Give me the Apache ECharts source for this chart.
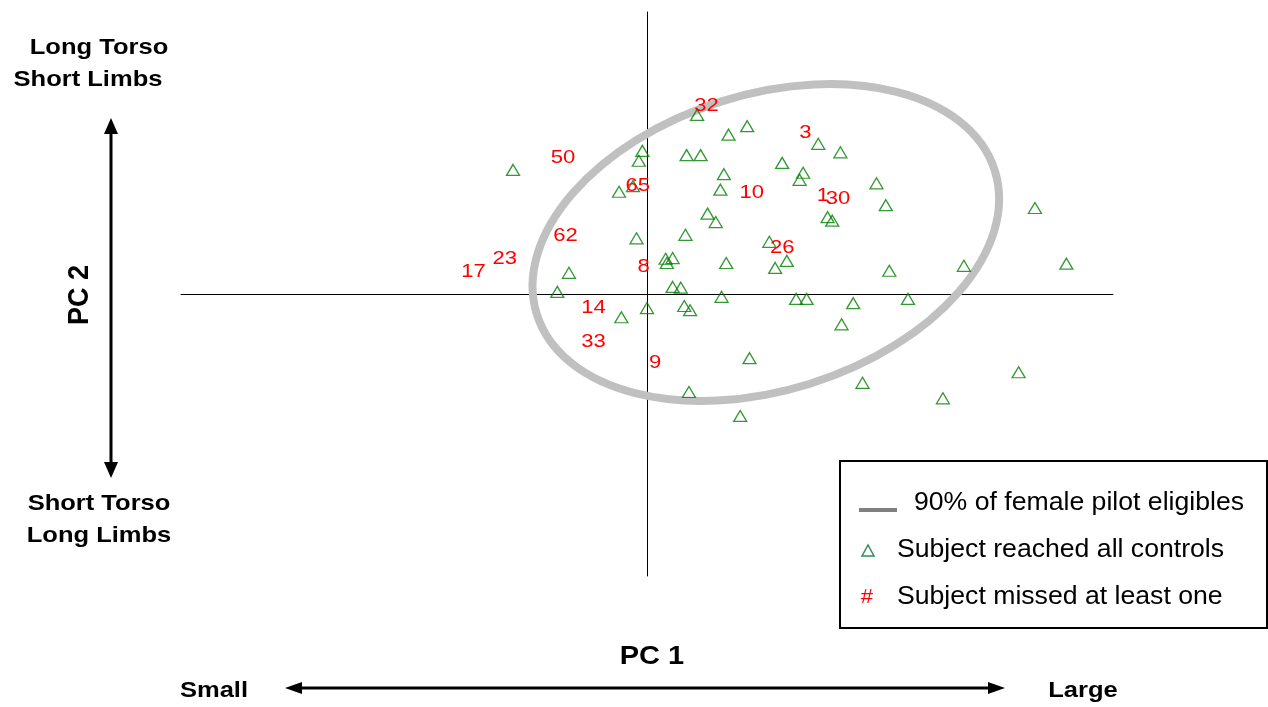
<!DOCTYPE html>
<html>
<head>
<meta charset="utf-8">
<script src="https://cdn.jsdelivr.net/npm/echarts@6/dist/echarts.min.js"></script>
<style>html,body{margin:0;padding:0;background:#fff;}#chart{width:1268px;height:707px;}</style>
</head>
<body>
<div id="chart"></div>
<script>
// ---- data ----
// Subjects who reached all controls (PC1, PC2 scores)
const reachedPC1 = [0.43,0.86,0.70,-0.04,-0.07,0.34,0.46,-1.15,0.66,-0.24,0.63,0.52,0.59,-0.09,0.33,0.16,0.22,0.17,0.68,-0.67,
  1.47,1.66,1.16,1.34,1.31,1.97,2.05,3.33,1.55,1.59,1.05,1.20,1.10,2.08,2.72,3.60,0.64,1.28,1.37,1.77,2.24,1.67,
  -0.77,0.22,0.29,-0.22,0.00,0.32,0.37,0.88,0.36,0.80,1.85,2.54,3.19,-0.12];
const reachedPC2 = [2.54,2.38,2.26,2.03,1.89,1.97,1.97,1.76,1.70,1.45,1.48,1.14,1.02,0.79,0.84,0.50,0.51,0.44,0.44,0.30,
  2.13,2.01,1.86,1.72,1.62,1.57,1.26,1.22,1.09,1.04,0.74,0.47,0.37,0.33,0.40,0.43,-0.04,-0.07,-0.07,-0.13,-0.07,-0.43,
  0.03,0.10,0.09,-0.33,-0.20,-0.17,-0.23,-0.91,-1.39,-1.73,-1.26,-1.48,-1.11,1.53];
// Subjects who missed at least one control (id, PC1, PC2)
const missedIds = ["32","3","50","65","10","1","30","62","26","23","17","8","14","33","9"];
const missedPC1 = [0.51,1.36,-0.72,-0.08,0.90,1.51,1.64,-0.70,1.16,-1.22,-1.49,-0.03,-0.46,-0.46,0.07];
const missedPC2 = [2.67,2.28,1.93,1.53,1.43,1.39,1.35,0.82,0.65,0.50,0.31,0.38,-0.20,-0.68,-0.97];
// 90% region of female pilot eligibles: [centerPC1, centerPC2, semiMajor, semiMinor, angleDeg]
const ellipse90 = [1.02, 0.73, 2.06, 1.27, 17.4];
// Axis range
const axisRange = [-4, 4];
// Text
const legendTexts = ["90% of female pilot eligibles", "Subject reached all controls", "Subject missed at least one"];

// ---- chart ----
const chart = echarts.init(document.getElementById('chart'), null, {renderer: 'canvas'});
const SX = 1.16;
const FONT = '"Liberation Sans", Arial, sans-serif';

function txt(text, x, y, size, opts) {
  opts = opts || {};
  return {
    type: 'text', x: x, y: y, scaleX: opts.scaleX || SX, scaleY: opts.scaleY || 1,
    rotation: opts.rotation || 0, silent: true, z: 10,
    style: {
      text: text, fill: opts.fill || '#000',
      font: (opts.bold === false ? '' : 'bold ') + size + 'px ' + FONT,
      align: opts.align || 'center', verticalAlign: 'middle'
    }
  };
}

const option = {
  animation: false,
  backgroundColor: '#fff',
  grid: {left: 181, right: 155, top: 12, bottom: 131, containLabel: false},
  xAxis: {
    type: 'value', min: axisRange[0], max: axisRange[1],
    axisLine: {show: true, onZero: true, lineStyle: {color: '#000', width: 1}},
    axisTick: {show: false}, axisLabel: {show: false}, splitLine: {show: false}
  },
  yAxis: {
    type: 'value', min: axisRange[0], max: axisRange[1],
    axisLine: {show: true, onZero: true, lineStyle: {color: '#000', width: 1}},
    axisTick: {show: false}, axisLabel: {show: false}, splitLine: {show: false}
  },
  series: [
    {
      type: 'custom', name: '90% of female pilot eligibles', z: 1, silent: true,
      data: [ellipse90],
      renderItem: function (params, api) {
        const c = api.coord([api.value(0), api.value(1)]);
        const s = api.size([1, 1])[0];
        return {
          type: 'ellipse', x: c[0], y: c[1], rotation: api.value(4) * Math.PI / 180,
          shape: {cx: 0, cy: 0, rx: api.value(2) * s, ry: api.value(3) * s},
          style: {fill: null, stroke: '#c0c0c0', lineWidth: 8}
        };
      }
    },
    {
      type: 'scatter', name: 'Subject reached all controls', z: 3, silent: true,
      data: reachedPC1.map((x, i) => [x, reachedPC2[i]]),
      symbol: 'triangle', symbolSize: [13, 11],
      itemStyle: {color: 'rgba(0,0,0,0)', borderColor: '#008000', borderWidth: 1.3}
    },
    {
      type: 'custom', name: 'Subject missed at least one', z: 4, silent: true,
      data: missedPC1.map((x, i) => [x, missedPC2[i]]),
      renderItem: function (params, api) {
        const p = api.coord([api.value(0), api.value(1)]);
        return {
          type: 'text', x: p[0], y: p[1], scaleX: SX,
          style: {text: missedIds[params.dataIndex], fill: '#ff0000',
            font: '19px ' + FONT, align: 'center', verticalAlign: 'middle'}
        };
      }
    }
  ],
  graphic: [
    // left side labels
    txt('Long Torso', 99, 48, 22),
    txt('Short Limbs', 88, 80, 22),
    txt('Short Torso', 99, 504, 22),
    txt('Long Limbs', 99, 536, 22),
    txt('PC 2', 80, 295, 27, {rotation: Math.PI / 2, scaleX: 1, scaleY: 1.1}),
    // vertical arrow
    {type: 'line', silent: true, shape: {x1: 111, y1: 130, x2: 111, y2: 466}, style: {stroke: '#000', lineWidth: 3}},
    {type: 'polygon', silent: true, shape: {points: [[111, 118], [104, 134], [118, 134]]}, style: {fill: '#000'}},
    {type: 'polygon', silent: true, shape: {points: [[111, 478], [104, 462], [118, 462]]}, style: {fill: '#000'}},
    // bottom labels
    txt('PC 1', 652, 657, 25),
    txt('Small', 214, 691, 22),
    txt('Large', 1083, 691, 22),
    {type: 'line', silent: true, shape: {x1: 298, y1: 688, x2: 992, y2: 688}, style: {stroke: '#000', lineWidth: 3}},
    {type: 'polygon', silent: true, shape: {points: [[285, 688], [302, 682], [302, 694]]}, style: {fill: '#000'}},
    {type: 'polygon', silent: true, shape: {points: [[1005, 688], [988, 682], [988, 694]]}, style: {fill: '#000'}},
    // legend box
    {type: 'rect', silent: true, shape: {x: 840, y: 461, width: 427, height: 167}, style: {fill: '#fff', stroke: '#000', lineWidth: 2}, z: 9},
    {type: 'line', silent: true, shape: {x1: 859, y1: 510, x2: 897, y2: 510}, style: {stroke: '#808080', lineWidth: 4}, z: 10},
    txt(legendTexts[0], 914, 503, 25, {bold: false, align: 'left', scaleX: 1.065}),
    {type: 'polygon', silent: true, shape: {points: [[868, 545], [862, 556], [874, 556]]}, style: {fill: 'none', stroke: '#2e8b57', lineWidth: 1.5}, z: 10},
    txt(legendTexts[1], 897, 550, 25, {bold: false, align: 'left', scaleX: 1.065}),
    txt('#', 867, 597, 21, {bold: false, fill: '#ff0000', scaleX: 1.05}),
    txt(legendTexts[2], 897, 597, 25, {bold: false, align: 'left', scaleX: 1.065})
  ]
};
chart.setOption(option);
</script>
</body>
</html>
